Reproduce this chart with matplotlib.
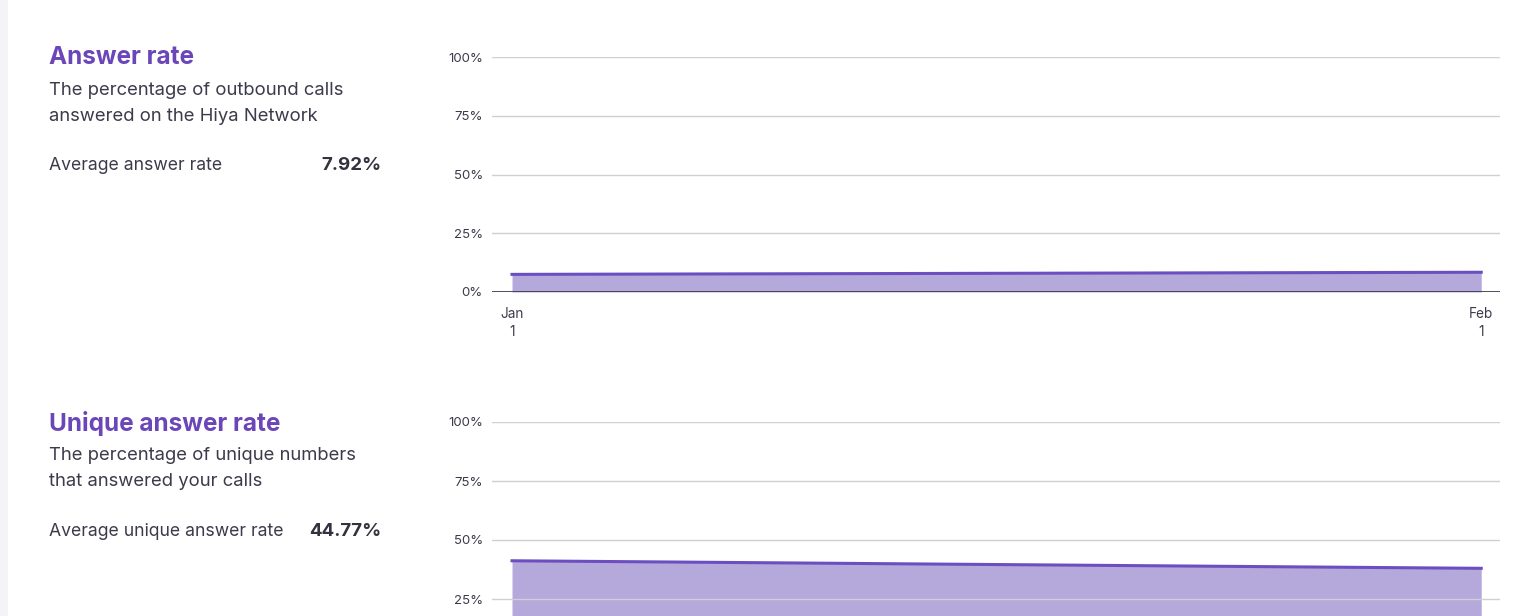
import matplotlib
matplotlib.use("Agg")
import matplotlib.pyplot as plt
from matplotlib.patches import Rectangle

plt.rcParams['font.family'] = ['Inter', 'DejaVu Sans']

# Data (day offset from Jan 1)
days = [0, 31]
answer_rate = [7.5, 8.4]
unique_answer_rate = [41.2, 38.0]
y_ticks = [0, 25, 50, 75, 100]
y_tick_labels = ["0%", "25%", "50%", "75%", "100%"]
x_ticks = [0, 31]
x_tick_labels = ["Jan\n1", "Feb\n1"]

panels = [
    dict(title="Answer rate",
         desc="The percentage of outbound calls\nanswered on the Hiya Network",
         avg_label="Average answer rate", avg_value="7.92%",
         values=answer_rate, top=57, bottom=292, text_y=58, show_x=True),
    dict(title="Unique answer rate",
         desc="The percentage of unique numbers\nthat answered your calls",
         avg_label="Average unique answer rate", avg_value="44.77%",
         values=unique_answer_rate, top=422, bottom=658, text_y=423, show_x=False),
]

W, H = 1540, 616
fig = plt.figure(figsize=(W / 100, H / 100), dpi=100)
fig.patch.set_facecolor("white")
fig.add_artist(Rectangle((0, 0), 8 / W, 1, transform=fig.transFigure,
                         facecolor="#f4f4f6", edgecolor="none"))

PURPLE = "#6a46b9"
TEXT = "#3b3b4b"
FILL = "#b5a8da"
LINE = "#6b4fc0"
GRID = "#cfcfd6"

x0, x1 = 492, 1500
for p in panels:
    ax = fig.add_axes([x0 / W, (H - p["bottom"]) / H, (x1 - x0) / W,
                       (p["bottom"] - p["top"]) / H])
    ax.set_xlim(-0.64, 31.6)
    ax.set_ylim(0, 100)
    ax.fill_between(days, p["values"], 0, color=FILL, lw=0, zorder=1)
    ax.plot(days, p["values"], color=LINE, lw=2.2, zorder=3)
    for t in y_ticks[1:]:
        ax.axhline(t, color=GRID, lw=1, zorder=2)
    ax.axhline(0, color="#3f3f4f", lw=1.3, zorder=4)
    if p["show_x"]:
        ax.set_yticks(y_ticks)
        ax.set_yticklabels(y_tick_labels, fontsize=9.5, color=TEXT)
        ax.set_xticks(x_ticks)
        ax.set_xticklabels(x_tick_labels, fontsize=9.8, color=TEXT, linespacing=1.3)
    else:
        ax.set_yticks(y_ticks[1:])
        ax.set_yticklabels(y_tick_labels[1:], fontsize=9.5, color=TEXT)
        ax.set_xticks([])
    ax.tick_params(axis="both", length=0)
    ax.tick_params(axis="y", pad=6.5)
    ax.tick_params(axis="x", pad=11)
    for s in ax.spines.values():
        s.set_visible(False)
    ax.set_facecolor("none")

    ty = p["text_y"]
    fig.text(49 / W, 1 - ty / H, p["title"], fontsize=17.5, fontweight="bold",
             color=PURPLE, va="center", ha="left")
    fig.text(49 / W, 1 - (ty + 45.5) / H, p["desc"], fontsize=13.3, color=TEXT,
             va="center", ha="left", linespacing=1.68)
    fig.text(49 / W, 1 - (ty + 108) / H, p["avg_label"], fontsize=12.7,
             color=TEXT, va="center", ha="left")
    fig.text(381 / W, 1 - (ty + 108) / H, p["avg_value"], fontsize=13.5,
             fontweight="bold", color="#33333f", va="center", ha="right")

fig.savefig("out.png", dpi=100)
